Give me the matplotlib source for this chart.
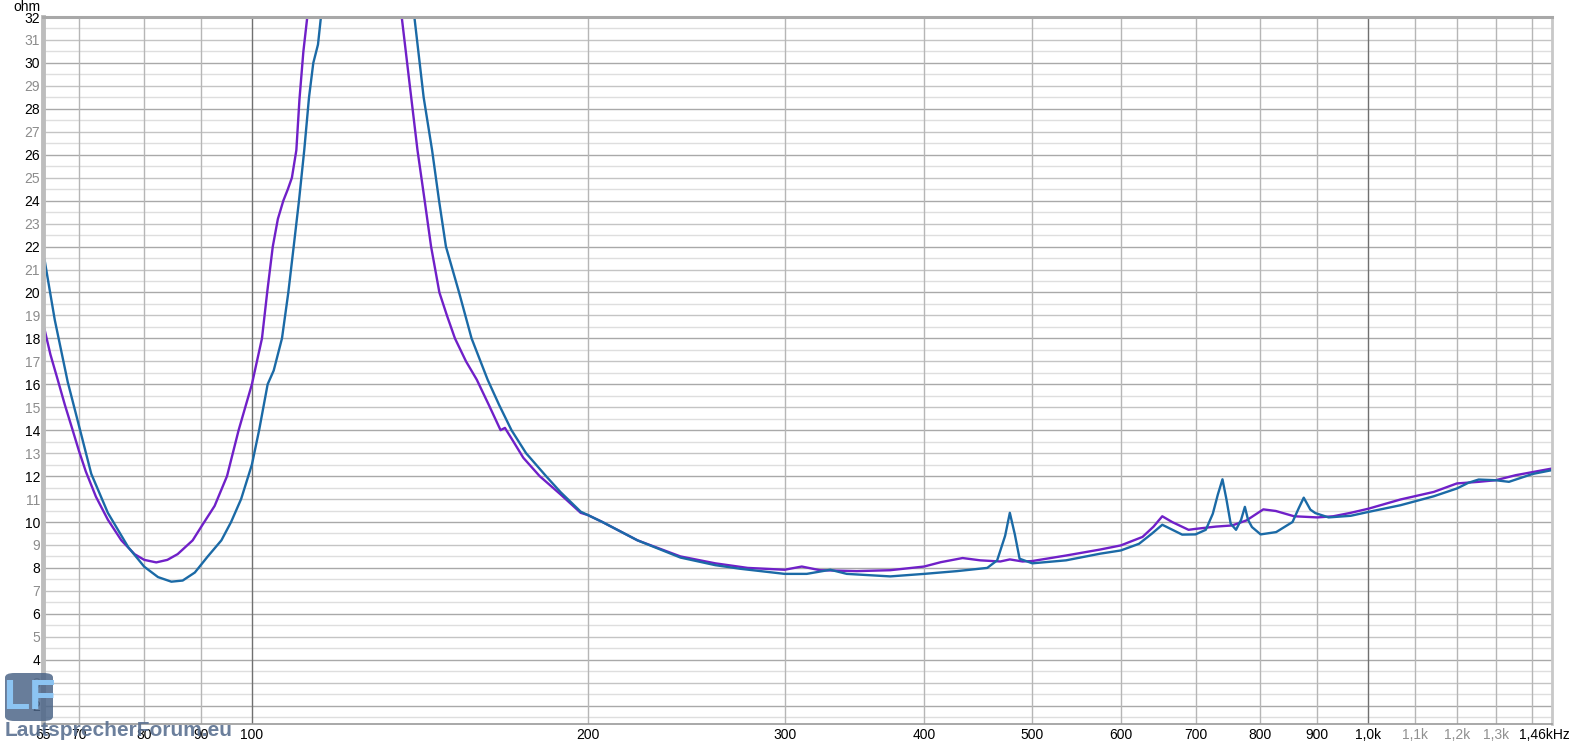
import matplotlib
matplotlib.use("Agg")
import matplotlib.pyplot as plt
from matplotlib.patches import FancyBboxPatch

plt.rcParams['font.family'] = ['Liberation Sans', 'DejaVu Sans']

# impedance curves (Hz, ohm)
purple_f = [65.2, 66.0, 67.0, 68.0, 69.0, 70.0, 71.0, 72.5, 74.3, 76.4, 78.5, 80.1, 82.1,
            84.0, 85.8, 88.5, 90.1, 92.6, 95.0, 97.3, 100.0, 102.1, 103.2, 104.4, 105.5,
            106.7, 107.7, 108.6, 109.6, 110.3, 111.2, 112.1, 124.0, 136.2, 138.5, 140.7,
            142.8, 144.7, 147.2, 149.5, 152.0, 155.5, 159.0, 163.0, 167.0, 168.5, 171.0,
            175.0, 181.0, 189.0, 197.0, 200.0, 206.0, 221.5, 242.0, 260.0, 278.0, 300.0,
            310.8, 322.7, 348.0, 373.0, 400.0, 414.0, 433.0, 449.0, 468.0, 477.3, 490.0,
            500.0, 536.0, 575.0, 600.0, 627.5, 642.0, 653.6, 667.0, 690.0, 700.0, 730.0,
            755.0, 777.6, 805.0, 826.0, 857.7, 900.0, 930.0, 964.0, 1000.0, 1068.0,
            1144.0, 1200.0, 1255.0, 1300.0, 1355.0, 1460.0]
purple_z = [18.4, 17.3, 16.2, 15.1, 14.1, 13.1, 12.2, 11.1, 10.1, 9.2, 8.6, 8.35, 8.24,
            8.35, 8.6, 9.2, 9.8, 10.7, 12.0, 14.0, 16.0, 18.0, 20.0, 22.0, 23.2,
            24.0, 24.5, 25.0, 26.2, 28.4, 30.5, 32.0, 60.0, 32.0, 29.0, 26.2,
            24.0, 22.0, 20.0, 19.0, 18.0, 17.0, 16.2, 15.1, 14.0, 14.1, 13.6,
            12.8, 12.0, 11.2, 10.4, 10.3, 10.0, 9.2, 8.5, 8.2, 8.0, 7.92,
            8.06, 7.9, 7.86, 7.9, 8.06, 8.25, 8.43, 8.33, 8.28, 8.37, 8.28,
            8.3, 8.54, 8.8, 8.98, 9.35, 9.8, 10.25, 10.0, 9.66, 9.7, 9.8,
            9.85, 10.07, 10.55, 10.48, 10.25, 10.2, 10.25, 10.4, 10.58, 10.98,
            11.31, 11.68, 11.75, 11.82, 12.04, 12.33]

blue_f = [65.2, 66.6, 68.4, 70.0, 71.8, 74.3, 77.5, 80.1, 82.4, 84.7, 86.7, 88.9, 91.3,
          93.9, 95.8, 97.8, 100.0, 101.5, 103.3, 104.6, 106.4, 107.8, 109.0, 110.2,
          111.4, 112.5, 113.5, 114.6, 115.3, 127.0, 139.8, 142.5, 145.0, 147.1, 149.2,
          153.3, 157.3, 162.6, 166.5, 170.8, 176.0, 183.4, 189.0, 197.0, 200.0, 206.0,
          221.5, 242.0, 260.0, 274.0, 300.0, 314.0, 329.6, 341.0, 373.0, 400.0, 428.0,
          455.6, 465.0, 472.7, 477.3, 482.3, 487.0, 500.0, 536.0, 575.0, 600.0, 623.0,
          640.0, 653.6, 681.0, 700.0, 715.0, 725.4, 733.0, 740.0, 746.0, 752.6, 761.0,
          769.0, 775.0, 780.0, 786.4, 800.6, 826.6, 855.0, 866.0, 875.0, 887.0, 896.0,
          921.0, 964.0, 1000.0, 1068.0, 1144.0, 1200.0, 1229.0, 1255.0, 1300.0,
          1336.0, 1402.0, 1460.0]
blue_z = [21.44, 18.8, 16.1, 14.2, 12.1, 10.4, 8.9, 8.05, 7.6, 7.4, 7.45, 7.8, 8.5,
          9.2, 10.0, 11.0, 12.5, 14.0, 16.0, 16.6, 18.0, 20.0, 22.0, 24.0,
          26.2, 28.5, 30.0, 30.8, 32.0, 60.0, 32.0, 28.5, 26.2, 24.0, 22.0,
          20.0, 18.0, 16.2, 15.1, 14.0, 13.0, 12.0, 11.3, 10.45, 10.3, 10.0,
          9.2, 8.45, 8.12, 7.96, 7.74, 7.74, 7.92, 7.74, 7.63, 7.74, 7.86,
          8.0, 8.33, 9.4, 10.4, 9.45, 8.4, 8.2, 8.33, 8.62, 8.76, 9.05,
          9.5, 9.88, 9.45, 9.46, 9.66, 10.36, 11.2, 11.86, 11.0, 9.93, 9.66,
          10.1, 10.66, 10.1, 9.78, 9.46, 9.56, 10.0, 10.6, 11.06, 10.54, 10.39,
          10.2, 10.27, 10.44, 10.73, 11.12, 11.46, 11.71, 11.85, 11.82,
          11.75, 12.09, 12.26]

x_ticks = [65, 70, 80, 90, 100, 200, 300, 400, 500, 600, 700, 800, 900, 1000, 1100, 1200, 1300]
x_labels = ['65', '70', '80', '90', '100', '200', '300', '400', '500', '600', '700', '800',
            '900', '1,0k', '1,1k', '1,2k', '1,3k']
x_grey = ['1,1k', '1,2k', '1,3k']
x_end = 1460
x_end_label = '1,46kHz'
v_grid = [70, 80, 90, 200, 300, 400, 500, 600, 700, 800, 900, 1100, 1200, 1300, 1400]
v_grid_dark = [100, 1000]
y_ticks = list(range(2, 33))

fig = plt.figure(figsize=(15.74, 7.49), dpi=100)
ax = fig.add_axes([43 / 1574, 1 - 724 / 749, (1552 - 43) / 1574, (724 - 17) / 749])
ax.set_xscale('log')
ax.set_xlim(65, x_end)
ax.set_ylim(1.2, 32)

# grid
for v in range(2, 33):
    ax.axhline(v, color='#a9a9a9' if v % 2 == 0 else '#c4c4c4', lw=1.0, zorder=0)
    ax.axhline(v - 0.5, color='#dedede', lw=1.0, zorder=0)
for v in v_grid:
    ax.axvline(v, color='#b6b6b6', lw=1.0, zorder=0)
for v in v_grid_dark:
    ax.axvline(v, color='#707070', lw=1.0, zorder=0)

ax.plot(purple_f, purple_z, color='#7020c8', lw=1.7, zorder=3)
ax.plot(blue_f, blue_z, color='#1b6aa6', lw=1.7, zorder=4)

ax.xaxis.set_minor_locator(matplotlib.ticker.NullLocator())
ax.set_xticks(x_ticks)
ax.set_xticklabels(x_labels, fontsize=10)
for t in ax.get_xticklabels():
    t.set_color('#909090' if t.get_text() in x_grey else 'black')
# end label of the frequency axis, kept inside the picture
ax.annotate(x_end_label, xy=(x_end, 0), xycoords=('data', 'axes fraction'),
            xytext=(13, -3), textcoords='offset points', ha='right', va='top',
            fontsize=10, color='black', annotation_clip=False)
ax.set_yticks(y_ticks)
ax.set_yticklabels([str(v) for v in y_ticks], fontsize=10)
for t, v in zip(ax.get_yticklabels(), y_ticks):
    t.set_color('black' if v % 2 == 0 else '#8c8c8c')
ax.tick_params(axis='both', length=0)
ax.tick_params(axis='x', pad=3)
ax.tick_params(axis='y', pad=2)

for s in ['top', 'right', 'bottom', 'left']:
    ax.spines[s].set_zorder(5)
ax.spines['left'].set_color('#bdbdbd')
ax.spines['left'].set_linewidth(3.5)
ax.spines['top'].set_color('#a8a8a8')
ax.spines['top'].set_linewidth(2.2)
ax.spines['right'].set_color('#c8c8c8')
ax.spines['right'].set_linewidth(2.0)
ax.spines['bottom'].set_color('#9a9a9a')
ax.spines['bottom'].set_linewidth(1.2)

fig.text(40 / 1574, 1 - 7 / 749, 'ohm', ha='right', va='center', fontsize=10)

# forum watermark
logo = FancyBboxPatch((5 / 1574, 1 - 721 / 749), 48 / 1574, 48 / 749,
                      boxstyle='round,pad=0,rounding_size=0.006', transform=fig.transFigure,
                      facecolor='#4d6688', edgecolor='none', alpha=0.85, zorder=10)
fig.add_artist(logo)
fig.text(29 / 1574, 1 - 698 / 749, 'LF', ha='center', va='center', fontsize=31,
         fontweight='bold', color='#8cc4f2', zorder=11)
fig.text(5 / 1574, 1 - 731 / 749, 'LautsprecherForum.eu', ha='left', va='center',
         fontsize=15, fontweight='bold', color='#5b7191', alpha=0.9, zorder=11)

fig.savefig('out.png', dpi=100, facecolor='white')
